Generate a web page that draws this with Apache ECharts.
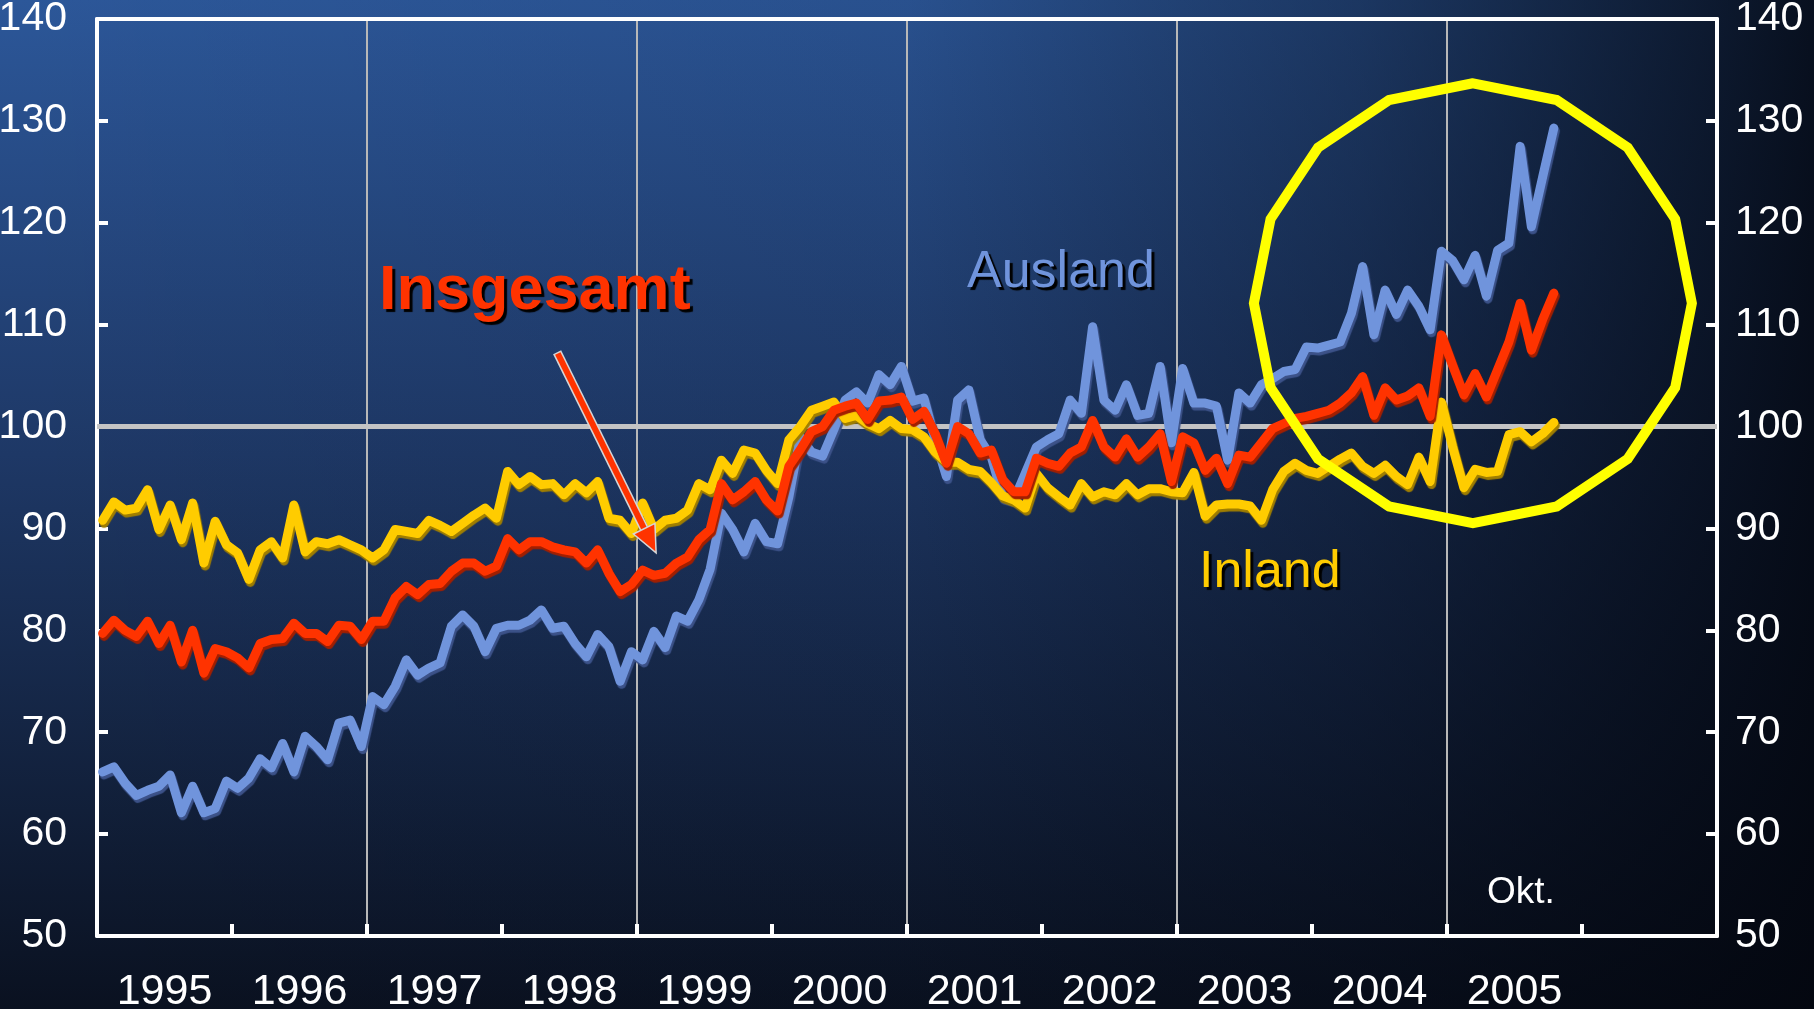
<!DOCTYPE html>
<html>
<head>
<meta charset="utf-8">
<title>Auftragseingang</title>
<script src="https://cdn.jsdelivr.net/npm/echarts@6.0.0/dist/echarts.min.js"></script>
<style>
html, body { margin: 0; padding: 0; background: #0b1322; }
#chart { width: 1814px; height: 1009px; }
</style>
</head>
<body>
<div id="chart"></div>
<script>
// Jahre auf der x-Achse (2006 ohne Beschriftung)
var years = ['1995', '1996', '1997', '1998', '1999', '2000', '2001', '2002', '2003', '2004', '2005', ''];

// Monatswerte Jan 1995 - Okt 2005
var ausland = [
    66.1, 66.6, 65.0, 63.8, 64.3, 64.7, 65.8, 62.1, 64.7, 62.1, 62.5, 65.2,
    64.5, 65.5, 67.4, 66.5, 68.9, 66.1, 69.6, 68.6, 67.3, 70.9, 71.2, 68.6,
    73.5, 72.7, 74.5, 77.1, 75.6, 76.3, 76.8, 80.4, 81.5, 80.4, 77.9, 80.2,
    80.5, 80.5, 81.0, 82.0, 80.2, 80.4, 78.7, 77.4, 79.6, 78.4, 75.0, 77.9,
    77.1, 79.9, 78.3, 81.4, 80.9, 83.0, 86.0, 91.5, 89.9, 87.7, 90.5, 88.7,
    88.5, 93.1, 99.0, 97.5, 97.1, 99.7, 102.6, 103.4, 102.3, 105.1, 104.1, 105.9,
    102.5, 102.8, 98.7, 95.1, 102.6, 103.6, 98.7, 97.0, 93.1, 92.8, 95.4, 98.0,
    98.7, 99.3, 102.6, 101.3, 109.8, 102.6, 101.6, 104.1, 101.1, 101.3, 105.9, 98.4,
    105.7, 102.3, 102.3, 102.0, 96.7, 103.3, 102.3, 104.1, 104.7, 105.4, 105.6, 107.8,
    107.7, 108.0, 108.3, 111.1, 115.7, 109.0, 113.4, 111.0, 113.4, 111.8, 109.5, 117.2,
    116.3, 114.4, 116.8, 112.8, 117.3, 118.0, 127.5, 119.6, 124.5, 129.3
];
var inland = [
    90.8, 92.6, 91.8, 92.0, 93.8, 89.9, 92.3, 88.9, 92.5, 86.6, 90.7, 88.4,
    87.6, 85.0, 87.9, 88.7, 87.1, 92.3, 87.7, 88.7, 88.5, 88.9, 88.4, 87.9,
    87.1, 87.9, 89.9, 89.7, 89.5, 90.8, 90.3, 89.7, 90.5, 91.3, 92.0, 91.0,
    95.6, 94.3, 95.1, 94.3, 94.4, 93.3, 94.4, 93.5, 94.6, 91.0, 90.8, 89.5,
    92.5, 89.9, 90.8, 91.0, 91.8, 94.4, 93.8, 96.7, 95.4, 97.7, 97.4, 95.7,
    94.4, 98.7, 100.0, 101.6, 102.0, 102.4, 100.8, 101.1, 100.3, 99.8, 100.6, 99.8,
    99.7, 99.0, 97.5, 96.5, 96.5, 95.8, 95.6, 94.5, 93.2, 92.8, 92.0, 95.4,
    94.0, 93.1, 92.3, 94.4, 93.1, 93.6, 93.3, 94.4, 93.3, 93.9, 93.9, 93.6,
    93.5, 95.5, 91.2, 92.3, 92.4, 92.4, 92.2, 90.8, 93.8, 95.6, 96.4, 95.7,
    95.4, 96.1, 96.8, 97.4, 96.1, 95.4, 96.2, 95.1, 94.3, 97.0, 94.6, 102.4,
    98.0, 94.0, 95.8, 95.5, 95.6, 99.2, 99.5, 98.5, 99.3, 100.4
];
var insgesamt = [
    79.7, 81.0, 80.0, 79.4, 80.9, 78.7, 80.5, 76.9, 80.0, 75.8, 78.2, 77.9,
    77.3, 76.3, 78.7, 79.1, 79.2, 80.7, 79.7, 79.7, 78.9, 80.5, 80.4, 79.1,
    80.9, 80.9, 83.2, 84.3, 83.5, 84.5, 84.6, 85.8, 86.6, 86.6, 85.8, 86.3,
    89.0, 87.9, 88.7, 88.7, 88.2, 87.9, 87.7, 86.6, 87.9, 85.6, 83.8, 84.5,
    85.9, 85.4, 85.6, 86.6, 87.2, 88.9, 89.9, 94.4, 92.8, 93.6, 94.6, 92.8,
    91.7, 96.1, 97.7, 99.5, 100.0, 101.6, 102.0, 102.3, 100.7, 102.5, 102.6, 102.9,
    100.7, 101.5, 99.3, 96.4, 100.0, 99.3, 97.4, 97.7, 94.8, 93.6, 93.6, 96.9,
    96.4, 96.1, 97.4, 98.0, 100.6, 98.0, 97.0, 98.8, 97.0, 98.0, 99.3, 94.6,
    99.0, 98.4, 95.7, 96.9, 94.4, 97.2, 97.0, 98.4, 99.8, 100.3, 100.8, 101.0,
    101.3, 101.6, 102.3, 103.3, 104.9, 101.1, 103.8, 102.6, 103.0, 103.8, 101.0, 109.0,
    106.0, 103.1, 105.2, 102.9, 105.6, 108.3, 112.1, 107.5, 110.5, 113.1
];

var yMin = 50, yMax = 140, yStep = 10;
var baseLine = 100;
var monthsOnAxis = 144;

// Pfeil und Kreis in Datenkoordinaten (Monate seit Jan 1995, Index)
var arrowFrom = [40.9, 107.3];
var arrowTo = [49.7, 87.6];
var ringCenter = [122.3, 112.1];

var fontFamily = '"Liberation Sans", Arial, Helvetica, sans-serif';

function toPoints(values) {
    return values.map(function (v, i) {
        return [i + 0.5, v];
    });
}

function lineSeries(name, values, color, shadow) {
    return {
        name: name,
        type: 'line',
        xAxisIndex: 1,
        yAxisIndex: 0,
        data: toPoints(values),
        symbol: 'none',
        smooth: false,
        silent: true,
        lineStyle: {
            color: color,
            width: 9,
            join: 'round',
            cap: 'round',
            shadowColor: shadow,
            shadowBlur: 1,
            shadowOffsetX: 1.5,
            shadowOffsetY: 3
        }
    };
}

var ausSeries = lineSeries('Ausland', ausland, '#7094dc', '#3c5289');
ausSeries.markLine = { // 100-Linie
    silent: true,
    z: 1,
    symbol: 'none',
    label: { show: false },
    lineStyle: { color: '#c4c4c4', width: 5, type: 'solid' },
    data: [{ yAxis: baseLine }]
};

var inSeries = lineSeries('Inland', inland, '#ffcc00', '#a07e00');
var totSeries = lineSeries('Insgesamt', insgesamt, '#ff3300', '#a31f00');

// Pfeil von "Insgesamt" zur Linie
var arrowSeries = {
    type: 'custom',
    xAxisIndex: 1,
    yAxisIndex: 0,
    silent: true,
    z: 10,
    data: [[arrowFrom[0], arrowFrom[1], arrowTo[0], arrowTo[1]]],
    renderItem: function (params, api) {
        var p0 = api.coord([api.value(0), api.value(1)]);
        var p1 = api.coord([api.value(2), api.value(3)]);
        var dx = p1[0] - p0[0], dy = p1[1] - p0[1];
        var len = Math.sqrt(dx * dx + dy * dy);
        var ux = dx / len, uy = dy / len;
        var nx = -uy, ny = ux;
        var headLen = 27, headHalf = 12;
        var bx = p1[0] - ux * headLen, by = p1[1] - uy * headLen;
        var head = [
            [p1[0], p1[1]],
            [bx + nx * headHalf, by + ny * headHalf],
            [bx - nx * headHalf, by - ny * headHalf]
        ];
        return {
            type: 'group',
            children: [
                { type: 'line', shape: { x1: p0[0], y1: p0[1], x2: bx, y2: by },
                  style: { stroke: '#d6d6d6', lineWidth: 9, lineCap: 'butt' } },
                { type: 'line', shape: { x1: p0[0] + ux * 1.5, y1: p0[1] + uy * 1.5, x2: bx + ux * 2, y2: by + uy * 2 },
                  style: { stroke: '#ff3300', lineWidth: 6, lineCap: 'butt' } },
                { type: 'polygon', shape: { points: head },
                  style: { fill: '#ff3300', stroke: '#d6d6d6', lineWidth: 1.5 } }
            ]
        };
    }
};

var ringSeries = {
    type: 'custom',
    xAxisIndex: 1,
    yAxisIndex: 0,
    silent: true,
    z: 8,
    data: [ringCenter],
    renderItem: function (params, api) {
        var c = api.coord([api.value(0), api.value(1)]);
        var rx = 219, ry = 220;
        var pts = [];
        for (var k = 0; k < 16; k++) {
            var a = Math.PI / 2 + k * Math.PI / 8;
            pts.push([c[0] + rx * Math.cos(a), c[1] - ry * Math.sin(a)]);
        }
        return {
            type: 'polygon',
            shape: { points: pts },
            style: { fill: 'none', stroke: '#ffff00', lineWidth: 10, lineJoin: 'miter' }
        };
    }
};

function label(text, x, y, size, color, bold, shadow) {
    var st = {
        text: text,
        fill: color,
        font: (bold ? 'bold ' : '') + size + 'px ' + fontFamily,
        textAlign: 'left',
        textVerticalAlign: 'middle'
    };
    if (shadow) {
        st.textShadowColor = '#000000';
        st.textShadowBlur = 1;
        st.textShadowOffsetX = 3;
        st.textShadowOffsetY = 3;
    }
    return { type: 'text', x: x, y: y, z: 20, silent: true, style: st };
}

var chart = echarts.init(document.getElementById('chart'), null, { renderer: 'canvas' });

var option = {
    animation: false,
    backgroundColor: 'transparent',
    textStyle: { fontFamily: fontFamily },
    grid: { left: 97, right: 97, top: 19, bottom: 73, containLabel: false, outerBoundsMode: 'none' },
    graphic: [
        { // Hintergrund
            type: 'rect', z: -10, silent: true,
            shape: { x: 0, y: 0, width: 1814, height: 1009 },
            style: {
                fill: new echarts.graphic.LinearGradient(0, 0, 0, 1, [
                    { offset: 0, color: '#2c5799' },
                    { offset: 0.45, color: '#1e3866' },
                    { offset: 1, color: '#0a1120' }
                ])
            }
        },
        {
            type: 'rect', z: -9, silent: true,
            shape: { x: 0, y: 0, width: 1814, height: 1009 },
            style: {
                fill: new echarts.graphic.LinearGradient(0, 0, 1, 0, [
                    { offset: 0, color: 'rgba(3,6,14,0)' },
                    { offset: 0.5, color: 'rgba(3,6,14,0.08)' },
                    { offset: 0.75, color: 'rgba(3,6,14,0.4)' },
                    { offset: 0.94, color: 'rgba(3,6,14,0.75)' },
                    { offset: 1, color: 'rgba(3,6,14,0.88)' }
                ])
            }
        },
        label('Insgesamt', 379, 292, 63, '#ff3300', true, true),
        label('Ausland', 967, 273, 52, '#7094dc', false, true),
        label('Inland', 1199, 573, 52, '#ffcc00', false, true),
        label('Okt.', 1487, 893, 37, '#ffffff', false, false)
    ],
    xAxis: [
        { // Jahresbeschriftung unten
            type: 'category',
            position: 'bottom',
            data: years,
            boundaryGap: true,
            axisLine: { show: true, lineStyle: { color: '#ffffff', width: 4 } },
            axisTick: { show: true, inside: true, length: 12, alignWithLabel: false, lineStyle: { color: '#ffffff', width: 4 } },
            axisLabel: { color: '#ffffff', fontSize: 43, margin: 35, fontFamily: fontFamily },
            splitLine: { show: false }
        },
        { // Monatsachse fuer die Daten
            type: 'value',
            position: 'top',
            min: 0,
            max: monthsOnAxis,
            interval: 24,
            axisLine: { show: true, lineStyle: { color: '#ffffff', width: 4 } },
            axisTick: { show: false },
            axisLabel: { show: false },
            splitLine: { show: true, lineStyle: { color: '#b8b8b8', width: 2 } }
        }
    ],
    yAxis: [
        {
            type: 'value',
            position: 'left',
            min: yMin,
            max: yMax,
            interval: yStep,
            axisLine: { show: true, lineStyle: { color: '#ffffff', width: 4 } },
            axisTick: { show: true, inside: true, length: 11, lineStyle: { color: '#ffffff', width: 4 } },
            axisLabel: { color: '#ffffff', fontSize: 41, margin: 30, fontFamily: fontFamily },
            splitLine: { show: false }
        },
        {
            type: 'value',
            position: 'right',
            min: yMin,
            max: yMax,
            interval: yStep,
            axisLine: { show: true, lineStyle: { color: '#ffffff', width: 4 } },
            axisTick: { show: true, inside: true, length: 11, lineStyle: { color: '#ffffff', width: 4 } },
            axisLabel: { color: '#ffffff', fontSize: 41, margin: 18, fontFamily: fontFamily },
            splitLine: { show: false }
        }
    ],
    series: [ausSeries, inSeries, totSeries, ringSeries, arrowSeries]
};

chart.setOption(option);
</script>
</body>
</html>
